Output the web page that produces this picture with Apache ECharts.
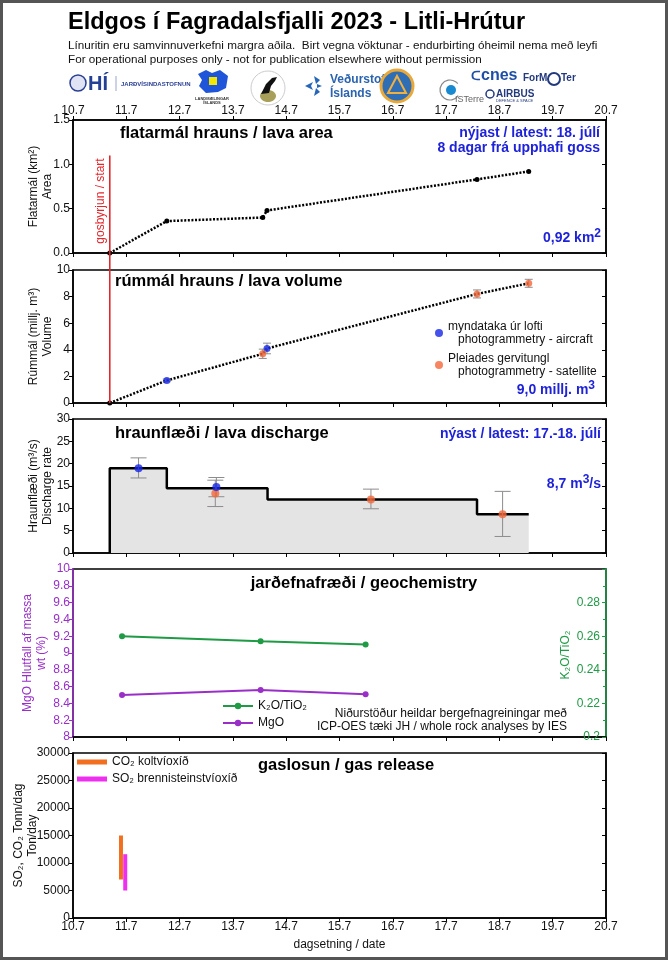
<!DOCTYPE html>
<html><head><meta charset="utf-8">
<script src="https://cdn.jsdelivr.net/npm/echarts@6/dist/echarts.min.js"></script>
<style>html,body{margin:0;padding:0;background:#fff}#c{width:668px;height:960px}</style>
</head><body><div id="c"></div>
<script>
// ---------- data (x = day of July; axis labels read "10.7" = 10 July) ----------
const xMin = 10, xMax = 20;
const eruptionStart = 10.69;
const startLineTop = 1.1;
const areaDays = [10.69, 11.76, 13.56, 13.64, 17.58, 18.55];
const areaKm2 = [0, 0.36, 0.40, 0.48, 0.83, 0.92];
const volumeDays = [10.69, 11.76, 13.56, 13.64, 17.58, 18.55];
const volumeMm3 = [0, 1.7, 3.7, 4.1, 8.2, 9.0];
const volAircraftDays = [11.76, 13.64];
const volAircraft = [1.7, 4.1];
const volAircraftErr = [0.1, 0.4];
const volSatDays = [13.56, 17.58, 18.55];
const volSat = [3.7, 8.2, 9.0];
const volSatErr = [0.35, 0.3, 0.3];
const stepEdges = [10.69, 11.76, 13.65, 17.58, 18.55];
const stepRates = [19, 14.5, 12, 8.7];
const rateAircraftDays = [11.23, 12.69];
const rateAircraft = [19.0, 14.8];
const rateAircraftLo = [16.8, 12.6];
const rateAircraftHi = [21.3, 16.9];
const rateSatDays = [12.67, 15.59, 18.06];
const rateSat = [13.3, 12.0, 8.7];
const rateSatLo = [10.4, 9.9, 3.7];
const rateSatHi = [16.3, 14.3, 13.8];
const geoDays = [10.92, 13.52, 15.49];
const k2oTio2 = [0.260, 0.257, 0.255];
const mgo = [8.50, 8.56, 8.51];
const co2Days = [10.90], co2Lo = [7000], co2Hi = [15000];
const so2Days = [10.98], so2Lo = [5000], so2Hi = [11600];

const nameAircraft = 'myndataka úr lofti\n   photogrammetry - aircraft';
const nameSat = 'Pleiades gervitungl\n   photogrammetry - satellite';
const nameK = 'K₂O/TiO₂';
const nameMg = 'MgO';
const nameCO2 = 'CO₂ koltvíoxíð';
const nameSO2 = 'SO₂ brennisteinstvíoxíð';

// ---------- styling ----------
const F = "'Liberation Sans', Arial, sans-serif";
const BLUE = '#1e22d8', ORANGE = '#f2683a', PTBLUE = '#1726e6';
const GREEN = '#1f9a45', PURPLE = '#9a2fc8', GAS_OR = '#f26f1f', GAS_MG = '#ee2ff0';
const chart = echarts.init(document.getElementById('c'));

const L = 73, R = 62;
const gridDefs = [[120, 133], [270, 133], [419, 134], [569, 168], [753, 165]];
const grids = gridDefs.map(g => ({left: L, right: R, top: g[0], height: g[1], show: true, outerBoundsMode: 'none',
  containLabel: false, borderColor: '#000', borderWidth: 1.5, backgroundColor: 'transparent'}));

function xAx(gi, showLabel, pos) {
  return {type: 'value', gridIndex: gi, min: xMin, max: xMax, interval: 1, position: pos || 'bottom',
    axisLine: {show: true, onZero: false, lineStyle: {color: '#000', width: 1.5}},
    axisTick: {show: true, inside: false, length: 4, lineStyle: {color: '#000', width: 1}},
    axisLabel: {show: showLabel, formatter: v => v + '.7', fontFamily: F, fontSize: 12, color: '#111', margin: 3},
    splitLine: {show: false}};
}
const xAxes = [xAx(0, false), xAx(1, false), xAx(2, false), xAx(3, false), xAx(4, true), xAx(0, true, 'top')];
xAxes[4].name = 'dagsetning / date';
xAxes[4].nameLocation = 'middle';
xAxes[4].nameGap = 21;
xAxes[4].nameMoveOverlap = false;
xAxes[4].nameTextStyle = {fontFamily: F, fontSize: 12, color: '#111'};

function yAx(gi, min, max, interval, name, gap, color, fmt) {
  color = color || '#000';
  const tc = color === '#000' ? '#111' : color;
  return {type: 'value', gridIndex: gi, min, max, interval, position: 'left',
    axisLine: {show: true, onZero: false, lineStyle: {color, width: 1.5}},
    axisTick: {show: true, inside: false, length: 4, lineStyle: {color, width: 1}},
    axisLabel: {show: true, fontFamily: F, fontSize: 12, color: tc, margin: 3, formatter: fmt || (v => String(v))},
    splitLine: {show: false},
    name, nameLocation: 'middle', nameRotate: 90, nameGap: gap, nameMoveOverlap: false,
    nameTextStyle: {fontFamily: F, fontSize: 12, color: tc, lineHeight: 14}};
}
function yMirror(gi, min, max, interval) {
  return {type: 'value', gridIndex: gi, min, max, interval, position: 'right',
    axisLine: {show: true, onZero: false, lineStyle: {color: '#000', width: 1.5}},
    axisTick: {show: true, inside: true, length: 4, lineStyle: {color: '#000', width: 1}},
    axisLabel: {show: false}, splitLine: {show: false}};
}
const yAxes = [
  yAx(0, 0, 1.5, 0.5, 'Flatarmál (km²)\nArea', 18, null, v => v.toFixed(1)),
  yAx(1, 0, 10, 2, 'Rúmmál (millj. m³)\nVolume', 18),
  yAx(2, 0, 30, 5, 'Hraunflæði (m³/s)\nDischarge rate', 18),
  yAx(3, 8, 10, 0.2, 'MgO Hlutfall af massa\nwt (%)', 24, PURPLE, v => String(+v.toFixed(1))),
  {type: 'value', gridIndex: 3, min: 0.2, max: 0.3, interval: 0.02, position: 'right',
    axisLine: {show: true, onZero: false, lineStyle: {color: GREEN, width: 1.5}},
    axisTick: {show: true, inside: true, length: 4, lineStyle: {color: GREEN, width: 1}},
    minorTick: {show: true, splitNumber: 2, length: 3, lineStyle: {color: GREEN, width: 1}},
    axisLabel: {show: true, inside: true, fontFamily: F, fontSize: 12, color: GREEN, margin: 6,
      formatter: v => v > 0.299 ? '' : String(+v.toFixed(2))},
    splitLine: {show: false}},
  yAx(4, 0, 30000, 5000, 'SO₂, CO₂ Tonn/dag\nTon/day', 33),
  yMirror(0, 0, 1.5, 0.5), yMirror(1, 0, 10, 2), yMirror(2, 0, 30, 5), yMirror(4, 0, 30000, 5000)
];

function errBar(capHalf) {
  return function (params, api) {
    const x = api.value(0), lo = api.value(1), hi = api.value(2);
    const p1 = api.coord([x, lo]), p2 = api.coord([x, hi]);
    const style = {stroke: '#8c8c8c', lineWidth: 1};
    return {type: 'group', children: [
      {type: 'line', shape: {x1: p1[0], y1: p1[1], x2: p2[0], y2: p2[1]}, style},
      {type: 'line', shape: {x1: p1[0] - capHalf, y1: p1[1], x2: p1[0] + capHalf, y2: p1[1]}, style},
      {type: 'line', shape: {x1: p2[0] - capHalf, y1: p2[1], x2: p2[0] + capHalf, y2: p2[1]}, style}
    ]};
  };
}
function gasBar(color) {
  return function (params, api) {
    const x = api.value(0), lo = api.value(1), hi = api.value(2);
    const p1 = api.coord([x, lo]), p2 = api.coord([x, hi]);
    return {type: 'rect', shape: {x: p1[0] - 2, y: p2[1], width: 4, height: p1[1] - p2[1]}, style: {fill: color}};
  };
}

const stepData = [[stepEdges[0], 0]];
stepRates.forEach((r, i) => { stepData.push([stepEdges[i], r]); stepData.push([stepEdges[i + 1], r]); });

const volErr = volAircraftDays.map((d, i) => [d, volAircraft[i] - volAircraftErr[i], volAircraft[i] + volAircraftErr[i]])
  .concat(volSatDays.map((d, i) => [d, volSat[i] - volSatErr[i], volSat[i] + volSatErr[i]]));
const rateErr = rateAircraftDays.map((d, i) => [d, rateAircraftLo[i], rateAircraftHi[i]])
  .concat(rateSatDays.map((d, i) => [d, rateSatLo[i], rateSatHi[i]]));

const series = [
  {name: 'area', type: 'line', xAxisIndex: 0, yAxisIndex: 0, data: areaDays.map((d, i) => [d, areaKm2[i]]),
    symbol: 'circle', symbolSize: 5, itemStyle: {color: '#000'}, lineStyle: {color: '#000', width: 2.5, type: [2, 1.6]}, z: 3},
  {name: 'volume', type: 'line', xAxisIndex: 1, yAxisIndex: 1,
    data: volumeDays.map((d, i) => i === 0 ? {value: [d, volumeMm3[i]], symbol: 'circle', symbolSize: 5} : {value: [d, volumeMm3[i]], symbol: 'none'}),
    itemStyle: {color: '#000'}, lineStyle: {color: '#000', width: 2.5, type: [2, 1.6]}, z: 2},
  {name: 'volErr', type: 'custom', xAxisIndex: 1, yAxisIndex: 1, renderItem: errBar(4), data: volErr, encode: {x: 0, y: [1, 2]}, z: 3},
  {name: nameAircraft, type: 'scatter', xAxisIndex: 1, yAxisIndex: 1, data: volAircraftDays.map((d, i) => [d, volAircraft[i]]),
    symbolSize: 7, itemStyle: {color: PTBLUE}, z: 5},
  {name: nameSat, type: 'scatter', xAxisIndex: 1, yAxisIndex: 1, data: volSatDays.map((d, i) => [d, volSat[i]]),
    symbolSize: 7, itemStyle: {color: ORANGE}, z: 5},
  {name: 'rate', type: 'line', xAxisIndex: 2, yAxisIndex: 2, data: stepData, showSymbol: false,
    lineStyle: {color: '#000', width: 2.5}, areaStyle: {color: '#e4e4e4', opacity: 1}, z: 2},
  {name: 'rateErr', type: 'custom', xAxisIndex: 2, yAxisIndex: 2, renderItem: errBar(8), data: rateErr, encode: {x: 0, y: [1, 2]}, z: 3},
  {name: 'rateSat', type: 'scatter', xAxisIndex: 2, yAxisIndex: 2, data: rateSatDays.map((d, i) => [d, rateSat[i]]),
    symbolSize: 8, itemStyle: {color: ORANGE}, z: 5},
  {name: 'rateAir', type: 'scatter', xAxisIndex: 2, yAxisIndex: 2, data: rateAircraftDays.map((d, i) => [d, rateAircraft[i]]),
    symbolSize: 8, itemStyle: {color: PTBLUE}, z: 6},
  {name: nameK, type: 'line', xAxisIndex: 3, yAxisIndex: 4, data: geoDays.map((d, i) => [d, k2oTio2[i]]),
    symbol: 'circle', symbolSize: 6, itemStyle: {color: GREEN}, lineStyle: {color: GREEN, width: 2}},
  {name: nameMg, type: 'line', xAxisIndex: 3, yAxisIndex: 3, data: geoDays.map((d, i) => [d, mgo[i]]),
    symbol: 'circle', symbolSize: 6, itemStyle: {color: PURPLE}, lineStyle: {color: PURPLE, width: 2}},
  {name: nameCO2, type: 'custom', xAxisIndex: 4, yAxisIndex: 5, renderItem: gasBar(GAS_OR),
    data: co2Days.map((d, i) => [d, co2Lo[i], co2Hi[i]]), encode: {x: 0, y: [1, 2]}, itemStyle: {color: GAS_OR}},
  {name: nameSO2, type: 'custom', xAxisIndex: 4, yAxisIndex: 5, renderItem: gasBar(GAS_MG),
    data: so2Days.map((d, i) => [d, so2Lo[i], so2Hi[i]]), encode: {x: 0, y: [1, 2]}, itemStyle: {color: GAS_MG}}
];

const legends = [
  {data: [nameAircraft, nameSat], left: 435, top: 320, padding: 0, orient: 'vertical', icon: 'circle', itemWidth: 8, itemHeight: 8,
    itemGap: 6, selectedMode: false, textStyle: {fontFamily: F, fontSize: 12, color: '#111', lineHeight: 13}},
  {data: [nameK, nameMg], left: 222, top: 700, padding: 0, orient: 'vertical', itemWidth: 30, itemHeight: 8, itemGap: 5,
    selectedMode: false, textStyle: {fontFamily: F, fontSize: 12, color: '#111'}},
  {data: [nameCO2, nameSO2], left: 77, top: 756, padding: 0, orient: 'vertical', icon: 'rect', itemWidth: 30, itemHeight: 5, itemGap: 5,
    selectedMode: false, textStyle: {fontFamily: F, fontSize: 12, color: '#111'}}
];

function txt(x, y, text, font, fill, align, extra) {
  return Object.assign({type: 'text', x, y, silent: true,
    style: {text, font, fill: fill || '#111', textAlign: align || 'left', textVerticalAlign: 'middle'}}, extra || {});
}
function rich(x, y, richText) {
  return {type: 'text', x, y, silent: true, style: {
    text: richText, textAlign: 'right', textVerticalAlign: 'middle',
    rich: {a: {fontFamily: F, fontSize: 14, fontWeight: 'bold', fill: BLUE, color: BLUE},
           s: {fontFamily: F, fontSize: 12, fontWeight: 'bold', fill: BLUE, color: BLUE, padding: [0, 0, 8, 0]}}}};
}
const B14 = 'bold 14px ' + F, T = 'bold 16.5px ' + F;
const graphics = [
  {type: 'rect', silent: true, shape: {x: 1.5, y: 1.5, width: 665, height: 957}, style: {fill: 'none', stroke: '#555', lineWidth: 3}},
  txt(68, 23, 'Eldgos í Fagradalsfjalli 2023 - Litli-Hrútur', 'bold 23.5px ' + F, '#000'),
  txt(68, 46, 'Línuritin eru samvinnuverkefni margra aðila.  Birt vegna vöktunar - endurbirting óheimil nema með leyfi', '11.7px ' + F, '#111'),
  txt(68, 60, 'For operational purposes only - not for publication elsewhere without permission', '11.7px ' + F, '#111'),
  // logos (simplified)
  {type: 'circle', silent: true, shape: {cx: 78, cy: 83, r: 8}, style: {fill: '#dfe3f3', stroke: '#2a3f93', lineWidth: 1.5}},
  txt(88, 84, 'HÍ', 'bold 20px ' + F, '#233f96'),
  {type: 'line', silent: true, shape: {x1: 116, y1: 76, x2: 116, y2: 91}, style: {stroke: '#9aa5cc', lineWidth: 1}},
  txt(121, 84, 'JARÐVÍSINDASTOFNUN', 'bold 6px ' + F, '#2a3f93'),
  {type: 'polygon', silent: true, shape: {points: [[198, 74], [206, 70], [212, 73], [220, 70], [228, 76], [226, 88], [218, 92], [206, 93], [199, 86], [202, 80]]}, style: {fill: '#1f55d8'}},
  {type: 'rect', silent: true, shape: {x: 209, y: 77, width: 8, height: 8}, style: {fill: '#f3e600'}},
  txt(212, 99, 'LANDMÆLINGAR', 'bold 4px ' + F, '#333', 'center'),
  txt(212, 103, 'ÍSLANDS', 'bold 4px ' + F, '#333', 'center'),
  {type: 'circle', silent: true, shape: {cx: 268, cy: 88, r: 17}, style: {fill: '#fff', stroke: '#ccc', lineWidth: 1}},
  {type: 'ellipse', silent: true, shape: {cx: 268, cy: 96, rx: 8, ry: 6}, style: {fill: '#a8a05a'}},
  {type: 'polygon', silent: true, shape: {points: [[261, 94], [266, 84], [272, 78], [277, 77], [275, 81], [271, 86], [269, 93]]}, style: {fill: '#111'}},
  {type: 'polygon', silent: true, shape: {points: [[305, 86], [313, 82], [311, 86], [313, 90]]}, style: {fill: '#2566b8'}},
  {type: 'polygon', silent: true, shape: {points: [[314, 76], [320, 80], [316, 84]]}, style: {fill: '#2566b8'}},
  {type: 'polygon', silent: true, shape: {points: [[314, 96], [320, 92], [316, 88]]}, style: {fill: '#2566b8'}},
  {type: 'polygon', silent: true, shape: {points: [[322, 86], [317, 84], [317, 88]]}, style: {fill: '#2566b8'}},
  txt(330, 80, 'Veðurstofa', 'bold 12px ' + F, '#2a64b0'),
  txt(330, 94, 'Íslands', 'bold 12px ' + F, '#2a64b0'),
  {type: 'circle', silent: true, shape: {cx: 397, cy: 86, r: 16}, style: {fill: '#2f6db5', stroke: '#e9a93a', lineWidth: 3}},
  {type: 'polygon', silent: true, shape: {points: [[397, 76], [406, 93], [388, 93]]}, style: {fill: 'none', stroke: '#f0b040', lineWidth: 2}},
  {type: 'arc', silent: true, shape: {cx: 450, cy: 90, r: 10, startAngle: 0.6, endAngle: 5.6}, style: {stroke: '#888', lineWidth: 1.2, fill: 'none'}},
  {type: 'circle', silent: true, shape: {cx: 451, cy: 90, r: 5}, style: {fill: '#1a8ad0'}},
  txt(455, 100, 'ISTerre', '9px ' + F, '#666'),
  txt(475, 76, 'ᑕ', 'bold 13px ' + F, '#1e4fa6', 'center'),
  txt(481, 76, 'cnes', 'bold 16px ' + F, '#1e4fa6'),
  txt(523, 78, 'ForM', 'bold 10px ' + F, '#23397e'),
  {type: 'circle', silent: true, shape: {cx: 554, cy: 79, r: 6}, style: {fill: '#fff', stroke: '#23397e', lineWidth: 2}},
  txt(561, 78, 'Ter', 'bold 10px ' + F, '#23397e'),
  {type: 'circle', silent: true, shape: {cx: 490, cy: 94, r: 4}, style: {fill: 'none', stroke: '#23397e', lineWidth: 1.5}},
  txt(496, 94, 'AIRBUS', 'bold 10px ' + F, '#23397e'),
  txt(496, 101, 'DEFENCE & SPACE', '4px ' + F, '#23397e'),
  // panel titles and notes
  txt(120, 133, 'flatarmál hrauns / lava area', T, '#000'),
  txt(600, 133, 'nýjast / latest: 18. júlí', B14, BLUE, 'right'),
  txt(600, 148, '8 dagar frá upphafi goss', B14, BLUE, 'right'),
  rich(601, 238, '{a|0,92 km}{s|2}'),
  txt(115, 281, 'rúmmál hrauns / lava volume', T, '#000'),
  rich(595, 390, '{a|9,0 millj. m}{s|3}'),
  txt(115, 433, 'hraunflæði / lava discharge', T, '#000'),
  txt(601, 434, 'nýast / latest: 17.-18. júlí', B14, BLUE, 'right'),
  rich(601, 484, '{a|8,7 m}{s|3}{a|/s}'),
  txt(364, 583, 'jarðefnafræði / geochemistry', T, '#000', 'center'),
  txt(567, 714, 'Niðurstöður heildar bergefnagreiningar með', '12px ' + F, '#111', 'right'),
  txt(567, 727, 'ICP-OES tæki JH / whole rock analyses by IES', '12px ' + F, '#111', 'right'),
  txt(566, 655, nameK, '12px ' + F, GREEN, 'center', {rotation: Math.PI / 2}),
  txt(258, 765, 'gaslosun / gas release', T, '#000')
];

const option = {animation: false, backgroundColor: '#fff', textStyle: {fontFamily: F},
  grid: grids, xAxis: xAxes, yAxis: yAxes, legend: legends, series, graphic: graphics};
chart.setOption(option);

const pTop = chart.convertToPixel({xAxisIndex: 0, yAxisIndex: 0}, [eruptionStart, startLineTop]);
const pBot = chart.convertToPixel({xAxisIndex: 1, yAxisIndex: 1}, [eruptionStart, 0]);
chart.setOption({graphic: graphics.concat([
  {type: 'line', silent: true, z: 10, shape: {x1: pTop[0], y1: pTop[1], x2: pBot[0], y2: pBot[1]}, style: {stroke: '#e3262b', lineWidth: 1.6}},
  {type: 'text', silent: true, z: 10, x: pTop[0] - 9, y: 201, rotation: Math.PI / 2,
    style: {text: 'gosbyrjun / start', font: '12px ' + F, fill: '#e3262b', textAlign: 'center', textVerticalAlign: 'middle'}}
])});
</script></body></html>
